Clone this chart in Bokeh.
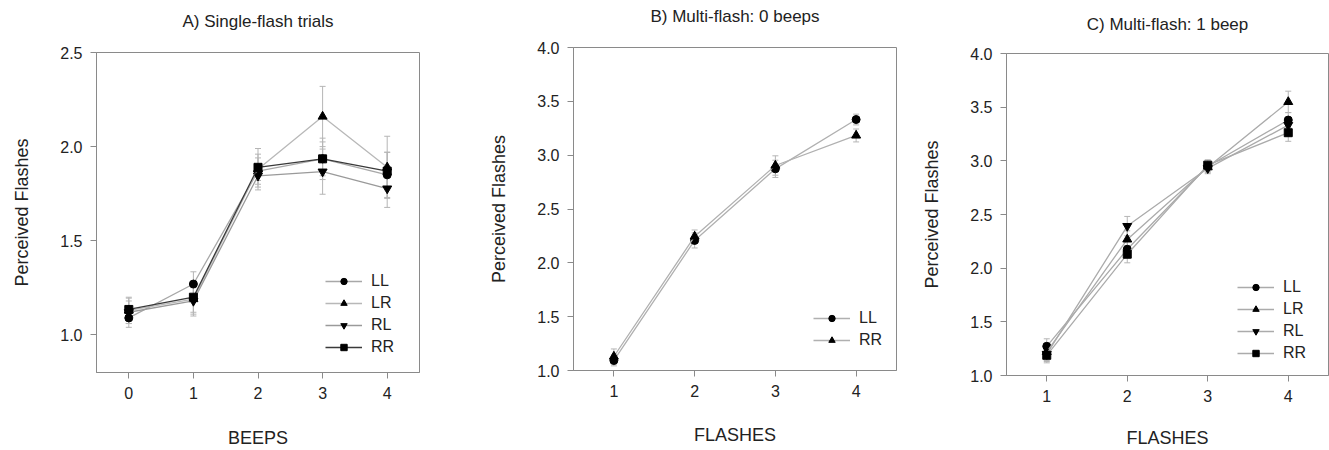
from bokeh.plotting import figure
from bokeh.layouts import row, column
from bokeh.models import (ColumnDataSource, Whisker, TeeHead, Legend, LegendItem,
                          FixedTicker, PrintfTickFormatter, Range1d, Title)
from bokeh.embed import file_html
from bokeh.resources import INLINE

FONT = "Liberation Sans"
TXT = "#222222"
FRAME = "#8a8a8a"

# ---------------- data ----------------
# Panel A: single-flash trials
beeps = [0, 1, 2, 3, 4]
a_LL = [1.09, 1.27, 1.87, 1.935, 1.85]
a_LL_se = [0.05, 0.065, 0.07, 0.11, 0.12]
a_LR = [1.13, 1.19, 1.88, 2.16, 1.89]
a_LR_se = [0.07, 0.09, 0.11, 0.16, 0.165]
a_RL = [1.12, 1.18, 1.845, 1.867, 1.777]
a_RL_se = [0.06, 0.07, 0.06, 0.12, 0.10]
a_RR = [1.135, 1.20, 1.89, 1.935, 1.87]
a_RR_se = [0.06, 0.08, 0.07, 0.09, 0.10]

# Panel B: multi-flash, 0 beeps
flashes = [1, 2, 3, 4]
b_LL = [1.093, 2.208, 2.873, 3.331]
b_LL_se = [0.05, 0.07, 0.08, 0.05]
b_RR = [1.13, 2.245, 2.904, 3.183]
b_RR_se = [0.07, 0.06, 0.09, 0.06]

# Panel C: multi-flash, 1 beep
c_LL = [1.272, 2.176, 2.95, 3.38]
c_LL_se = [0.07, 0.08, 0.05, 0.07]
c_LR = [1.22, 2.268, 2.94, 3.549]
c_LR_se = [0.08, 0.08, 0.05, 0.10]
c_RL = [1.20, 2.392, 2.93, 3.333]
c_RL_se = [0.07, 0.09, 0.05, 0.07]
c_RR = [1.188, 2.13, 2.96, 3.262]
c_RR_se = [0.07, 0.08, 0.05, 0.08]

series_names = ["LL", "LR", "RL", "RR"]
y_ticks_a = [1.0, 1.5, 2.0, 2.5]
y_ticks_bc = [1.0, 1.5, 2.0, 2.5, 3.0, 3.5, 4.0]

MARKERS = {"LL": "circle", "LR": "triangle", "RL": "inverted_triangle", "RR": "square"}
MSIZE = {"LL": 8, "LR": 9, "RL": 9, "RR": 8}
ERR = "#b5b5b5"


def make_fig(width, mbl, mbr, mbt, mbb, xr, yr, xticks, yticks, xlabel,
             title, title_gap, ylab_standoff, xlab_standoff):
    p = figure(width=width, height=450, x_range=Range1d(*xr), y_range=Range1d(*yr),
               output_backend="svg", toolbar_location=None,
               min_border_left=mbl, min_border_right=mbr,
               min_border_top=mbt, min_border_bottom=mbb)
    # spacer between frame and title
    p.add_layout(Title(text=" ", text_font_size="1px", standoff=title_gap), "above")
    p.title.text = title
    p.title.align = "center"
    p.title.text_font = FONT
    p.title.text_font_size = "17px"
    p.title.text_font_style = "normal"
    p.title.text_color = TXT
    p.title.standoff = 0
    p.xgrid.visible = False
    p.ygrid.visible = False
    p.outline_line_color = FRAME
    p.outline_line_width = 1
    p.border_fill_color = "white"
    p.background_fill_color = "white"
    for ax in (p.xaxis[0], p.yaxis[0]):
        ax.axis_line_color = FRAME
        ax.major_tick_line_color = FRAME
        ax.major_tick_out = 6
        ax.major_tick_in = 0
        ax.minor_tick_line_color = None
        ax.major_label_text_font = FONT
        ax.major_label_text_font_size = "16px"
        ax.major_label_text_color = TXT
        ax.major_label_standoff = 8
        ax.axis_label_text_font = FONT
        ax.axis_label_text_font_size = "18px"
        ax.axis_label_text_font_style = "normal"
        ax.axis_label_text_color = TXT
    p.xaxis.ticker = FixedTicker(ticks=xticks)
    p.yaxis.ticker = FixedTicker(ticks=yticks)
    p.yaxis.formatter = PrintfTickFormatter(format="%.1f")
    p.yaxis.axis_label = "Perceived Flashes"
    p.xaxis.axis_label = xlabel
    p.yaxis.axis_label_standoff = ylab_standoff
    p.xaxis.axis_label_standoff = xlab_standoff
    return p


def add_series(p, xs, ys, ses, marker, size, line_color, label):
    src = ColumnDataSource(dict(x=xs, y=ys,
                                upper=[a + b for a, b in zip(ys, ses)],
                                lower=[a - b for a, b in zip(ys, ses)]))
    p.add_layout(Whisker(source=src, base="x", upper="upper", lower="lower",
                         line_color=ERR, line_width=1,
                         upper_head=TeeHead(size=6, line_color=ERR, line_width=1),
                         lower_head=TeeHead(size=6, line_color=ERR, line_width=1)))
    ln = p.line("x", "y", source=src, line_color=line_color, line_width=1.3)
    sc = p.scatter("x", "y", source=src, marker=marker, size=size,
                   fill_color="black", line_color="black")
    return LegendItem(label=label, renderers=[ln, sc])


def add_legend(p, items, loc):
    lg = Legend(items=items, location=loc, padding=0, margin=0,
                border_line_alpha=0, background_fill_alpha=0,
                glyph_width=37, glyph_height=16, label_height=20, spacing=2,
                label_standoff=9, label_text_font=FONT, label_text_font_size="16px",
                label_text_color=TXT)
    p.add_layout(lg)


# Panel A
pa = make_fig(460, 96, 41, 52, 75, (-0.5, 4.5), (0.8, 2.5), beeps, y_ticks_a,
              "BEEPS", "A) Single-flash trials", 19, 25, 26)
a_data = {"LL": (a_LL, a_LL_se, "#a8a8a8"), "LR": (a_LR, a_LR_se, "#b8b8b8"),
          "RL": (a_RL, a_RL_se, "#9a9a9a"), "RR": (a_RR, a_RR_se, "#3a3a3a")}
items_a = [add_series(pa, beeps, a_data[n][0], a_data[n][1], MARKERS[n], MSIZE[n],
                      a_data[n][2], n) for n in series_names]
add_legend(pa, items_a, (229, 15))

# Panel B
pb = make_fig(445, 113, 9, 47, 80, (0.5, 4.5), (1.0, 4.0), flashes, y_ticks_bc,
              "FLASHES", "B) Multi-flash: 0 beeps", 19, 25, 25)
items_b = [add_series(pb, flashes, b_LL, b_LL_se, "circle", 8, "#b0b0b0", "LL"),
           add_series(pb, flashes, b_RR, b_RR_se, "triangle", 9, "#b0b0b0", "RR")]
add_legend(pb, items_b, (240, 20))

# Panel C
pc = make_fig(424, 101, 1, 53, 73, (0.5, 4.5), (1.0, 4.0), flashes, y_ticks_bc,
              "FLASHES", "C) Multi-flash: 1 beep", 17, 25, 23)
c_data = {"LL": (c_LL, c_LL_se), "LR": (c_LR, c_LR_se),
          "RL": (c_RL, c_RL_se), "RR": (c_RR, c_RR_se)}
items_c = [add_series(pc, flashes, c_data[n][0], c_data[n][1], MARKERS[n], MSIZE[n],
                      "#ababab", n) for n in series_names]
add_legend(pc, items_c, (231, 12))

layout = row(column(pa), column(pb), column(pc), spacing=0)
open("out.html", "w").write(file_html(layout, INLINE))
